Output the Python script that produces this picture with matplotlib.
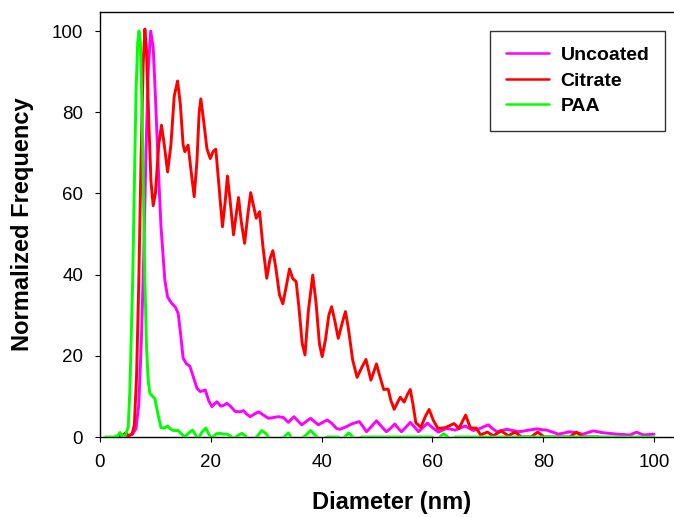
import matplotlib
matplotlib.use("Agg")
import matplotlib.pyplot as plt

plt.rcParams['font.family'] = ['Liberation Sans', 'DejaVu Sans']

# size distributions, diameter (nm) vs normalized frequency
uncoated_x = [3.5, 5.0, 5.8, 6.5, 7.0, 7.5, 7.9, 8.3, 8.7, 9.15, 9.6, 10.0, 10.5, 11.0, 11.7,
              12.2, 12.9, 13.6, 14.1, 14.5, 15.0, 15.6, 16.2, 16.8, 17.5, 18.1, 18.6, 19.0,
              19.6, 20.2, 20.7, 21.1, 21.8, 22.3, 22.9, 23.6, 24.4, 25.3, 25.9, 26.5, 27.1,
              27.8, 28.6, 29.5, 30.4, 31.3, 32.2, 33.1, 34.0, 35.0, 35.7, 36.4, 37.2, 38.0,
              38.7, 39.4, 40.2, 41.0, 41.8, 42.7, 43.3, 44.4, 45.4, 46.8, 47.5, 48.1, 49.0,
              49.9, 50.8, 51.7, 52.5, 53.2, 53.8, 54.4, 55.2, 56.0, 56.8, 57.5, 58.3, 59.1,
              60.1, 61.1, 61.8, 62.6, 63.4, 64.1, 65.0, 65.9, 66.7, 67.4, 68.0, 68.6, 69.4,
              70.1, 70.8, 71.6, 72.5, 73.4, 74.5, 75.5, 76.2, 77.0, 77.9, 78.8, 79.7, 80.6,
              81.7, 82.7, 83.8, 84.8, 86.0, 87.2, 88.1, 89.0, 89.8, 90.5, 91.9, 93.3, 94.5,
              95.7, 96.3, 96.9, 97.5, 98.1, 99.0, 100.0]
uncoated_y = [0, 0.3, 0.6, 2, 8, 25, 45, 70, 90, 100, 96, 84, 67, 52, 38.7,
              34.5, 33, 32, 30.5, 26, 19.5, 18, 17.5, 15, 12, 11.2, 11.4, 11.6,
              9, 7.5, 8.2, 8.7, 7.6, 7.8, 8.3, 7.5, 6.3, 6.2, 6.5, 5.6, 5.0,
              5.6, 6.2, 5.4, 4.6, 4.8, 5.0, 4.8, 3.6, 5.0, 4.0, 3.0, 3.8, 4.6,
              3.8, 3.0, 3.6, 4.2, 3.4, 2.1, 1.9, 2.5, 3.2, 3.8, 2.5, 1.3, 2.6,
              4.0, 2.6, 1.3, 2.2, 3.2, 2.2, 1.3, 2.4, 3.6, 2.4, 1.3, 2.4, 3.4,
              2.2, 1.2, 1.7, 2.1, 1.9, 1.7, 2.2, 2.7, 2.1, 1.6, 1.9, 2.1, 2.6,
              3.0, 2.1, 1.3, 1.6, 1.9, 1.6, 1.3, 1.4, 1.6, 1.8, 2.0, 1.8, 1.7,
              1.2, 0.7, 1.0, 1.3, 1.0, 0.7, 1.1, 1.5, 1.3, 1.1, 0.9, 0.7, 0.6,
              0.5, 0.9, 1.2, 0.8, 0.5, 0.6, 0.7]

citrate_x = [3.0, 4.0, 4.6, 5.2, 5.8, 6.2, 6.6, 7.0, 7.4, 7.8, 8.1, 8.4, 8.8, 9.2, 9.6,
             10.0, 10.6, 11.1, 11.6, 12.2, 12.8, 13.4, 14.0, 14.5, 15.0, 15.3, 15.9, 16.4,
             17.0, 17.5, 17.9, 18.2, 18.7, 19.3, 19.9, 20.4, 20.9, 21.4, 22.1, 22.6, 23.0,
             23.5, 24.1, 24.6, 25.0, 25.5, 26.1, 26.7, 27.2, 27.7, 28.2, 28.8, 29.4, 30.1,
             30.7, 31.2, 31.7, 32.4, 33.0, 33.6, 34.2, 34.8, 35.4, 35.9, 36.5, 37.0, 37.6,
             38.4, 39.0, 39.6, 40.1, 40.7, 41.3, 41.8, 42.4, 43.0, 43.7, 44.3, 44.8, 45.6,
             46.4, 47.2, 48.0, 48.9, 49.9, 50.5, 51.2, 52.0, 52.5, 53.1, 53.7, 54.2, 54.9,
             55.5, 56.0, 56.5, 57.0, 57.9, 58.7, 59.4, 60.2, 61.0, 62.3, 63.9, 64.8, 65.4,
             66.0, 66.5, 66.9, 67.9, 68.7, 69.9, 71.0, 72.4, 73.7, 74.9, 76.1, 77.8, 79.0,
             80.2, 84.8, 86.0, 87.2, 90.0]
citrate_y = [0, 0.3, 1.0, 0.3, 0.8, 3, 15, 38, 68, 92, 100.5, 95, 78, 63, 57,
             60, 72, 76.8, 72, 65.3, 72, 84, 87.7, 82, 72, 70.3, 71.9, 66,
             59.2, 68, 80, 83.3, 78, 71, 68.6, 70.3, 70.9, 63, 51.8, 58, 64.3,
             58, 49.8, 55, 59.0, 53, 47.7, 55, 60.2, 57, 53.9, 55.5, 47, 39.1,
             44, 45.9, 42, 35, 32.8, 37, 41.4, 39, 38.3, 32, 23, 20.2, 31,
             39.9, 33, 23, 19.8, 24, 30, 32.1, 28.5, 24.3, 28, 30.9, 27, 19,
             14.7, 17, 19.1, 14.0, 18.0, 15, 11.7, 11.8, 9, 6.8, 8.5, 9.8, 8.6,
             10.5, 11.7, 8, 3.5, 2.4, 5, 6.8, 4, 2.1, 2.3, 3.3, 2.1, 3.8,
             5.4, 3.5, 2.2, 2.2, 0.5, 1.2, 0.3, 1.5, 0.3, 1.2, 0, 0, 1.2,
             0, 0, 1.2, 0, 0]

paa_x = [1.0, 2.5, 3.2, 3.6, 4.0, 4.6, 5.1, 5.4, 5.7, 5.9, 6.2, 6.5, 6.8, 7.04, 7.3,
         7.6, 7.9, 8.1, 8.4, 8.7, 9.0, 9.5, 9.9, 10.4, 11.0, 11.6, 12.2, 12.7, 13.2,
         14.1, 14.7, 15.3, 16.0, 16.7, 17.2, 17.7, 18.4, 19.1, 19.6, 20.1, 21.0, 21.7,
         22.3, 22.9, 23.5, 24.1, 24.9, 25.6, 26.2, 26.8, 27.6, 28.4, 29.2, 30.0, 30.8,
         32.4, 33.3, 34.0, 34.7, 36.0, 37.2, 38.0, 38.8, 39.8, 40.6, 41.0, 43.0, 43.6,
         44.3, 44.9, 45.5, 46.2, 47.2, 59.9, 60.8, 61.5, 62.0, 62.6, 63.3, 64.1, 100.0]
paa_y = [0, 0, 0.3, 1.1, 0.2, 0.5, 2.5, 12, 28, 38.7, 62, 85, 97, 100, 97,
         80, 55, 38.7, 22, 14, 10.8, 10, 9.5, 6, 2.3, 2.2, 2.7, 2.0, 1.6,
         1.6, 0.8, 0, 1.0, 1.7, 0.6, -0.5, 1.2, 2.2, 0.8, -0.3, 0.8, 0.9,
         0.7, 0.7, 0.3, -0.5, 0.4, 0.9, 0.3, -0.8, -0.8, 0.2, 1.6, 0.8, -0.8,
         -0.8, 0.1, 1.0, -0.5, -0.8, 0.5, 1.6, 0.5, -0.8, -0.3, 0, 0, -0.8,
         0.2, 1.0, 0.2, -0.8, 0, 0, -0.8, 0.2, 0.8, 0.2, -0.8, 0, 0]

fig = plt.figure(figsize=(6.74, 5.17), dpi=100)
ax = fig.add_axes([100 / 674, 80 / 517, 574 / 674, 425 / 517])

lw = 2.1
style = dict(lw=lw, solid_joinstyle='round', solid_capstyle='round')
ax.plot(uncoated_x, uncoated_y, color='#ff00ff', label='Uncoated', zorder=3, **style)
ax.plot(citrate_x, citrate_y, color='#ff0000', label='Citrate', zorder=3, **style)
ax.plot(paa_x, paa_y, color='#00ff00', label='PAA', zorder=4, **style)

ax.set_xlim(0, 103.6)
ax.set_ylim(0, 104.7)
ax.set_xticks([0, 20, 40, 60, 80, 100])
ax.set_yticks([0, 20, 40, 60, 80, 100])
ax.tick_params(direction='out', length=3.6, width=0.8, labelsize=13.5, pad=8.5)
ax.spines['right'].set_visible(False)
for s in ('left', 'bottom', 'top'):
    ax.spines[s].set_linewidth(1.0)

ax.set_xlabel('Diameter (nm)', fontsize=17, fontweight='bold')
ax.set_ylabel('Normalized Frequency', fontsize=17, fontweight='bold')
ax.xaxis.set_label_coords(0.508, -0.126)
ax.yaxis.set_label_coords(-0.115, 0.5)

leg = ax.legend(loc='upper right', bbox_to_anchor=(0.984, 0.955), borderaxespad=0,
                prop={'weight': 'bold', 'size': 14}, fancybox=False, frameon=True,
                handlelength=2.2, handletextpad=0.6, labelspacing=0.4,
                borderpad=0.8)
leg.get_frame().set_edgecolor('black')
leg.get_frame().set_linewidth(1.0)
for h in leg.get_lines():
    h.set_linewidth(1.8)

fig.savefig('out.png', dpi=100)
